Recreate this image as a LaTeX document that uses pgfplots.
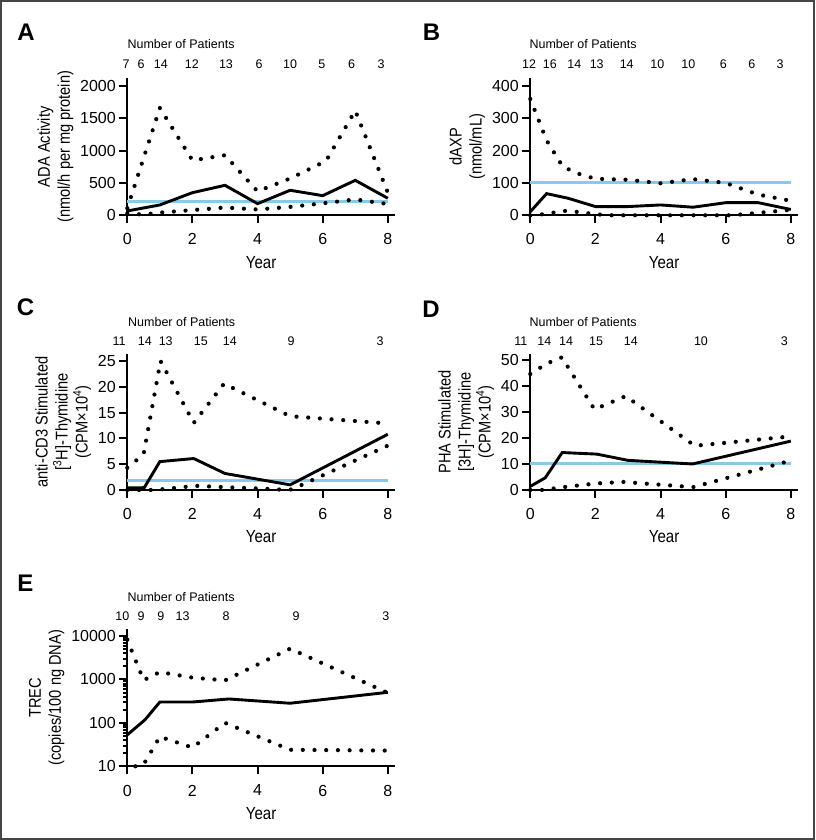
\documentclass[border=0pt]{standalone}
\usepackage{fontspec}
\setmainfont{Liberation Sans}
\newfontfamily\condfont[FakeStretch=0.86]{Liberation Sans}
\usepackage{pgfplots}
\pgfplotsset{compat=1.18}
\definecolor{refblue}{RGB}{137,201,234}
\definecolor{framegray}{RGB}{70,70,70}
\pgfplotsset{
  panel/.style={
    scale only axis, width=267.7pt, xmin=0, xmax=8.22,
    axis lines=left, axis line style={-, line width=2.3pt},
    tick align=outside, major tick length=8pt, minor tick length=4pt,
    tick style={line width=2pt, black},
    xtick={0,2,4,6,8},
    /pgf/number format/assume math mode=true,
    /pgf/number format/1000 sep={},
    tick label style={font=\fontsize{16}{18}\selectfont},
    xticklabel style={yshift=-7pt},
    xlabel={Year},
    xlabel style={font=\condfont\fontsize{17.5}{20}\selectfont, at={(axis description cs:0.5,0)}, anchor=center, yshift=-47pt},
    ylabel style={font=\condfont\fontsize{17}{20}\selectfont, align=center},
    clip=false,
  },
}
\tikzset{
  solidl/.style={black, line width=2.9pt},
  dotl/.style={black, line width=4.2pt, dash pattern=on 0pt off 11.7pt, line cap=round},
  bluel/.style={refblue, line width=3pt},
  pnum/.style={font=\fontsize{12.5}{14}\selectfont, anchor=center},
}
\begin{document}
\begin{tikzpicture}
\path[use as bounding box] (0pt,0pt) rectangle (815pt,840pt);
\draw[framegray, line width=2pt] (1pt,1pt) rectangle (814pt,839pt);
\node[font=\bfseries\fontsize{24}{24}\selectfont] at (26pt,807.5pt) {A};
\node[font=\bfseries\fontsize{24}{24}\selectfont] at (431.5pt,807.5pt) {B};
\node[font=\bfseries\fontsize{24}{24}\selectfont] at (25.5pt,532.5pt) {C};
\node[font=\bfseries\fontsize{24}{24}\selectfont] at (431pt,530.5pt) {D};
\node[font=\bfseries\fontsize{24}{24}\selectfont] at (25.5pt,256.5pt) {E};

% ---------------- A ----------------
\begin{axis}[panel, at={(127.3pt,624.7pt)}, anchor=south west, height=137pt,
  ymin=0, ymax=2120, ytick={0,500,1000,1500,2000},
  ylabel={ADA Activity\\(nmol/h per mg protein)}]
\addplot[bluel, no marks] coordinates {(0,212) (8,212)};
\addplot[dotl, no marks] coordinates {(0,110) (1,1660) (2,850) (3,930) (4,370) (5,570) (6.1,840) (7,1620) (8,350)};
\addplot[dotl, no marks] coordinates {(0,30) (0.5,10) (1,42) (2,80) (3,120) (4,90) (5,130) (6,185) (7,245) (8,175)};
\addplot[solidl, no marks] coordinates {(0,67) (1,160) (2,350) (3,464) (4,180) (5,387) (6,304) (7,541) (8,263)};
\node[pnum, yshift=34pt] at (axis cs:1.65,2120) {Number of Patients};
\node[pnum, yshift=14pt] at (axis cs:-0.04,2120) {7};
\node[pnum, yshift=14pt] at (axis cs:0.42,2120) {6};
\node[pnum, yshift=14pt] at (axis cs:1.03,2120) {14};
\node[pnum, yshift=14pt] at (axis cs:1.98,2120) {12};
\node[pnum, yshift=14pt] at (axis cs:3.03,2120) {13};
\node[pnum, yshift=14pt] at (axis cs:4.05,2120) {6};
\node[pnum, yshift=14pt] at (axis cs:5.0,2120) {10};
\node[pnum, yshift=14pt] at (axis cs:5.97,2120) {5};
\node[pnum, yshift=14pt] at (axis cs:6.89,2120) {6};
\node[pnum, yshift=14pt] at (axis cs:7.79,2120) {3};
\end{axis}

% ---------------- B ----------------
\begin{axis}[panel, at={(530.3pt,624.7pt)}, anchor=south west, height=137pt,
  ymin=0, ymax=424, ytick={0,100,200,300,400},
  ylabel={dAXP\\(nmol/mL)}]
\addplot[bluel, no marks] coordinates {(0,100) (8,100)};
\addplot[dotl, no marks] coordinates {(0,360) (0.5,232) (1,150) (1.5,128) (2,113) (3,110) (4,99) (5,112) (6,100) (7,64) (8,45)};
\addplot[dotl, no marks] coordinates {(0,0) (0.5,4) (1,14) (1.5,10) (2,3) (2.5,0) (6.2,0) (8,17)};
\addplot[solidl, no marks] coordinates {(0,11) (0.5,67) (1.15,53) (2,27) (3,27) (4,32) (5,25) (6,39) (7,39) (8,18)};
\node[pnum, yshift=34pt] at (axis cs:1.62,424) {Number of Patients};
\node[pnum, yshift=14pt] at (axis cs:-0.04,424) {12};
\node[pnum, yshift=14pt] at (axis cs:0.6,424) {16};
\node[pnum, yshift=14pt] at (axis cs:1.35,424) {14};
\node[pnum, yshift=14pt] at (axis cs:2.04,424) {13};
\node[pnum, yshift=14pt] at (axis cs:2.96,424) {14};
\node[pnum, yshift=14pt] at (axis cs:3.9,424) {10};
\node[pnum, yshift=14pt] at (axis cs:4.85,424) {10};
\node[pnum, yshift=14pt] at (axis cs:5.93,424) {6};
\node[pnum, yshift=14pt] at (axis cs:6.8,424) {6};
\node[pnum, yshift=14pt] at (axis cs:7.67,424) {3};
\end{axis}

% ---------------- C ----------------
\begin{axis}[panel, at={(127.3pt,350pt)}, anchor=south west, height=136pt,
  ymin=0, ymax=26.36, ytick={0,5,10,15,20,25},
  ylabel={anti-CD3 Stimulated\\{[}\textsuperscript{3}H{]}-Thymidine\\(CPM×10\textsuperscript{4})}]
\addplot[bluel, no marks] coordinates {(0,1.9) (8,1.9)};
\addplot[dotl, no marks] coordinates {(0,4.3) (0.5,6.9) (1.02,25) (2.04,13.0) (2.97,20.6) (5,14.3) (8,12.9)};
\addplot[dotl, no marks] coordinates {(0,0) (0.7,0) (1,0.1) (2.1,0.8) (3,0.55) (4,0.3) (4.8,0.05) (5.05,0.1) (8,8.6)};
\addplot[solidl, no marks] coordinates {(0,0.4) (0.52,0.45) (1,5.5) (2.04,6.1) (3,3.2) (5,1.0) (8,10.8)};
\node[pnum, yshift=32pt] at (axis cs:1.67,26.36) {Number of Patients};
\node[pnum, yshift=12.5pt] at (axis cs:-0.25,26.36) {11};
\node[pnum, yshift=12.5pt] at (axis cs:0.54,26.36) {14};
\node[pnum, yshift=12.5pt] at (axis cs:1.18,26.36) {13};
\node[pnum, yshift=12.5pt] at (axis cs:2.26,26.36) {15};
\node[pnum, yshift=12.5pt] at (axis cs:3.15,26.36) {14};
\node[pnum, yshift=12.5pt] at (axis cs:5.03,26.36) {9};
\node[pnum, yshift=12.5pt] at (axis cs:7.76,26.36) {3};
\end{axis}

% ---------------- D ----------------
\begin{axis}[panel, at={(530.3pt,350pt)}, anchor=south west, height=136pt,
  ymin=0, ymax=52.3, ytick={0,10,20,30,40,50},
  ylabel={PHA Stimulated\\{[}3H{]}-Thymidine\\(CPM×10\textsuperscript{4})}]
\addplot[bluel, no marks] coordinates {(0,10) (8,10)};
\addplot[dotl, no marks] coordinates {(0,44.6) (0.5,48.6) (0.97,51) (1.97,31) (2.93,36.1) (5.05,17) (8,20.6)};
\addplot[dotl, no marks] coordinates {(0,0) (0.35,0) (1.05,1.15) (2,2.5) (2.85,3.1) (5,1.1) (8,11.3)};
\addplot[solidl, no marks] coordinates {(0,1.4) (0.46,4.7) (0.98,14.4) (2.04,13.8) (3,11.4) (4.98,10) (8,18.8)};
\node[pnum, yshift=32pt] at (axis cs:1.62,52.3) {Number of Patients};
\node[pnum, yshift=12.5pt] at (axis cs:-0.29,52.3) {11};
\node[pnum, yshift=12.5pt] at (axis cs:0.43,52.3) {14};
\node[pnum, yshift=12.5pt] at (axis cs:1.1,52.3) {14};
\node[pnum, yshift=12.5pt] at (axis cs:2.02,52.3) {15};
\node[pnum, yshift=12.5pt] at (axis cs:3.09,52.3) {14};
\node[pnum, yshift=12.5pt] at (axis cs:5.24,52.3) {10};
\node[pnum, yshift=12.5pt] at (axis cs:7.8,52.3) {3};
\end{axis}

% ---------------- E ----------------
\begin{axis}[panel, at={(127.3pt,73.7pt)}, anchor=south west, height=137.3pt,
  ymode=log, ymin=10, ymax=14490, ytick={10,100,1000,10000},
  log ticks with fixed point,
  ylabel={TREC\\(copies/100 ng DNA)}]
\addplot[dotl, no marks] coordinates {(0,8200) (0.5,960) (1,1480) (2,1100) (3,950) (5,5100) (8,490)};
\addplot[dotl, no marks] coordinates {(0.25,10) (0.5,11) (1,48) (2,27) (3,100) (5,24) (8,23)};
\addplot[solidl, no marks] coordinates {(0,53) (0.54,117) (1,302) (2,302) (3.12,355) (5,283) (8,505)};
\node[pnum, yshift=32pt] at (axis cs:1.65,14490) {Number of Patients};
\node[pnum, yshift=13pt] at (axis cs:-0.15,14490) {10};
\node[pnum, yshift=13pt] at (axis cs:0.42,14490) {9};
\node[pnum, yshift=13pt] at (axis cs:1.03,14490) {9};
\node[pnum, yshift=13pt] at (axis cs:1.7,14490) {13};
\node[pnum, yshift=13pt] at (axis cs:3.03,14490) {8};
\node[pnum, yshift=13pt] at (axis cs:5.18,14490) {9};
\node[pnum, yshift=13pt] at (axis cs:7.94,14490) {3};
\end{axis}
\end{tikzpicture}
\end{document}
